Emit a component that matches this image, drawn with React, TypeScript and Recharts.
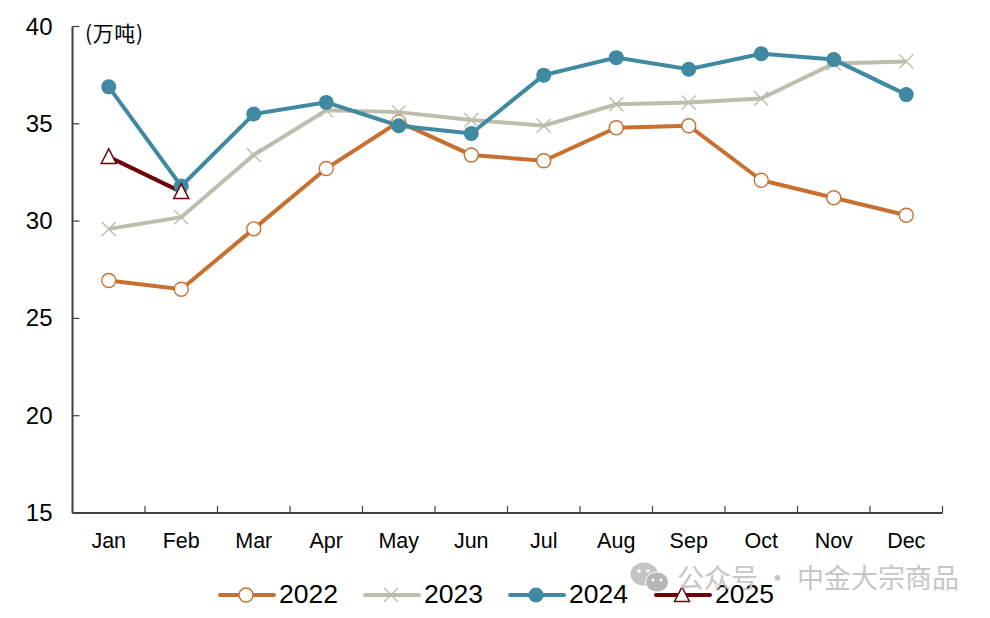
import { Legend, Line, LineChart, XAxis, YAxis } from "recharts";

const months = ["Jan", "Feb", "Mar", "Apr", "May", "Jun", "Jul", "Aug", "Sep", "Oct", "Nov", "Dec"];
const values2022 = [26.95, 26.5, 29.6, 32.7, 35.1, 33.4, 33.1, 34.8, 34.9, 32.1, 31.2, 30.3];
const values2023 = [29.6, 30.2, 33.4, 35.7, 35.6, 35.2, 34.9, 36.0, 36.1, 36.3, 38.1, 38.2];
const values2024 = [36.9, 31.8, 35.5, 36.1, 34.9, 34.5, 37.5, 38.4, 37.8, 38.6, 38.3, 36.5];
const values2025 = [33.3, 31.5];
const yTicks = [15, 20, 25, 30, 35, 40];
const seriesNames = ["2022", "2023", "2024", "2025"];

const data = months.map((month, i) => ({
  month,
  y2022: values2022[i],
  y2023: values2023[i],
  y2024: values2024[i],
  y2025: values2025[i],
}));

const ORANGE = "#C8702F";
const SAGE = "#BDBDAE";
const TEAL = "#3F8AA0";
const MAROON = "#6B0508";
const AXIS = "#404040";
const FONT = '"Liberation Sans", Arial, sans-serif';
const CJK = '"Noto Sans CJK SC", sans-serif';

const colors = [ORANGE, SAGE, TEAL, MAROON];

const CircleOpen = ({ cx, cy }: any) => (
  <circle cx={cx} cy={cy} r={7} fill="#fff" stroke={ORANGE} strokeWidth={1.4} />
);
const Cross = ({ cx, cy }: any) => (
  <path
    d={`M${cx - 7} ${cy - 7}L${cx + 7} ${cy + 7}M${cx - 7} ${cy + 7}L${cx + 7} ${cy - 7}`}
    stroke={SAGE}
    strokeWidth={1.4}
    fill="none"
  />
);
const CircleFull = ({ cx, cy }: any) => <circle cx={cx} cy={cy} r={7.5} fill={TEAL} stroke="none" />;
const Triangle = ({ cx, cy }: any) => (
  <path
    d={`M${cx} ${cy - 8}L${cx + 7.5} ${cy + 6.5}L${cx - 7.5} ${cy + 6.5}Z`}
    fill="#fff"
    stroke={MAROON}
    strokeWidth={1.5}
  />
);
const markers = [CircleOpen, Cross, CircleFull, Triangle];

const MonthTick = ({ x, y, payload, index }: any) => {
  const half = payload.offset ?? 36.25;
  return (
    <g>
      <line x1={x - half} x2={x - half} y1={y} y2={y - 7} stroke={AXIS} strokeWidth={1.2} />
      {index === months.length - 1 ? (
        <line x1={x + half} x2={x + half} y1={y} y2={y - 7} stroke={AXIS} strokeWidth={1.2} />
      ) : null}
      <text x={x} y={y + 35} textAnchor="middle" fontSize={21.5} fontFamily={FONT} fill="#000">
        {payload.value}
      </text>
    </g>
  );
};

const ValueTick = ({ x, y, payload }: any) => (
  <g>
    <line x1={x} x2={x + 7} y1={y} y2={y} stroke={AXIS} strokeWidth={1.2} />
    <text x={x - 20} y={y + 8} textAnchor="end" fontSize={24} fontFamily={FONT} fill="#000">
      {payload.value}
    </text>
  </g>
);

const legendLefts = [218, 363, 508, 654];

const YearLegend = () => (
  <div style={{ position: "relative", width: 990, height: 46 }}>
    {seriesNames.map((name, i) => {
      const Marker = markers[i];
      return (
        <div key={name} style={{ position: "absolute", left: legendLefts[i], top: 0 }}>
          <svg width={58} height={46} style={{ position: "absolute", left: 0, top: 0 }}>
            <line x1={2} x2={56} y1={23} y2={23} stroke={colors[i]} strokeWidth={4} strokeLinecap="round" />
            <Marker cx={28} cy={23} />
          </svg>
          <span
            style={{
              position: "absolute",
              left: 61,
              top: 7,
              fontFamily: FONT,
              fontSize: 26.5,
              lineHeight: "30px",
              color: "#000",
            }}
          >
            {name}
          </span>
        </div>
      );
    })}
  </div>
);

export default function App() {
  return (
    <div style={{ position: "absolute", left: 0, top: 0, width: 990, height: 618, background: "#fff" }}>
      <LineChart
        width={990}
        height={618}
        data={data}
        margin={{ top: 26.5, right: 47.5, bottom: 19, left: 12.5 }}
      >
        <XAxis
          dataKey="month"
          scale="band"
          height={40}
          tick={<MonthTick />}
          tickLine={false}
          tickSize={0}
          tickMargin={0}
          interval={0}
          stroke={AXIS}
          strokeWidth={2}
        />
        <YAxis
          width={60}
          domain={[15, 40]}
          ticks={yTicks}
          tick={<ValueTick />}
          tickLine={false}
          tickSize={0}
          tickMargin={0}
          interval={0}
          stroke={AXIS}
          strokeWidth={2}
        />
        <Legend
          verticalAlign="bottom"
          content={<YearLegend />}
          wrapperStyle={{ left: 0, bottom: 0, width: 990, height: 46 }}
        />
        <Line dataKey="y2022" stroke={ORANGE} strokeWidth={4} dot={<CircleOpen />} activeDot={false} isAnimationActive={false} />
        <Line dataKey="y2023" stroke={SAGE} strokeWidth={4} dot={<Cross />} activeDot={false} isAnimationActive={false} />
        <Line dataKey="y2024" stroke={TEAL} strokeWidth={4} dot={<CircleFull />} activeDot={false} isAnimationActive={false} />
        <Line dataKey="y2025" stroke={MAROON} strokeWidth={4} dot={<Triangle />} activeDot={false} isAnimationActive={false} />
      </LineChart>

      <div style={{ position: "absolute", left: 85, top: 17, fontFamily: CJK, fontSize: 21, lineHeight: "30px", letterSpacing: 0.6, color: "#000" }}>
        (万吨)
      </div>

      <svg width={40} height={36} style={{ position: "absolute", left: 630, top: 560 }}>
        <ellipse cx={14} cy={14} rx={13.5} ry={11.5} fill="#C4C4C4" />
        <ellipse cx={27} cy={22} rx={11.5} ry={10} fill="#B6B6B6" stroke="#fff" strokeWidth={1} />
        <circle cx={9} cy={11} r={1.8} fill="#fff" />
        <circle cx={18} cy={11} r={1.8} fill="#fff" />
        <circle cx={23} cy={20} r={1.5} fill="#fff" />
        <circle cx={31} cy={20} r={1.5} fill="#fff" />
      </svg>
      <div
        style={{
          position: "absolute",
          left: 677,
          top: 559,
          fontFamily: CJK,
          fontSize: 27,
          lineHeight: "36px",
          color: "#C6C6C6",
          whiteSpace: "nowrap",
        }}
      >
        公众号 · 中金大宗商品
      </div>
    </div>
  );
}
